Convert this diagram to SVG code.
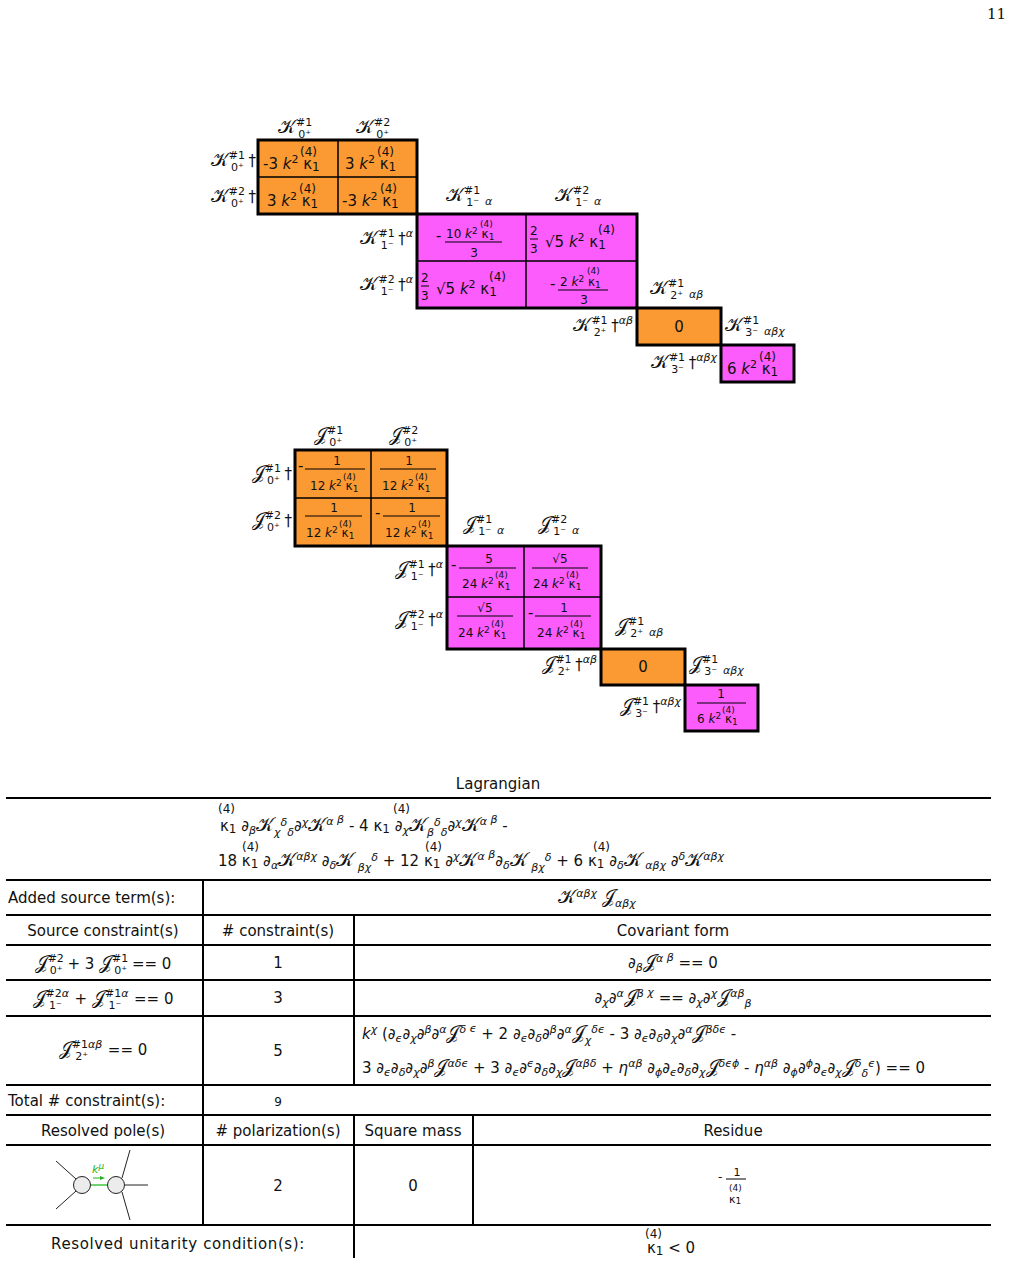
<svg xmlns="http://www.w3.org/2000/svg" width="1012" height="1263" viewBox="0 0 1012 1263">
<style>
text{font-family:"DejaVu Sans","Noto Sans",sans-serif;fill:#111}
.t{font-size:15px}
.s{font-size:11px}
.xs{font-size:9px}
.m{font-size:12px}
.K{font-size:19px}
.c{text-anchor:middle}
.e{text-anchor:end}
.or{fill:#fb9a33;stroke:none}
.mg{fill:#fb5cfb;stroke:none}
.g{stroke:#000;stroke-width:1.5;fill:none}
.b{stroke:#000;stroke-width:3;fill:none}
.tl{stroke:#000;stroke-width:2;fill:none}
.i{font-style:italic}
</style>
<text x="1006" y="19" class="e" style="font-family:'DejaVu Serif',serif;font-size:15px">11</text>

<g id="matrixK">
<rect class="or" x="258" y="140" width="159" height="74"/>
<rect class="mg" x="417" y="214" width="220" height="94"/>
<rect class="or" x="637" y="308" width="84" height="37"/>
<rect class="mg" x="721" y="345" width="73" height="37"/>
<path class="g" d="M338 140V214M258 177H417M526 214V308M417 261H637"/>
<rect class="b" x="258" y="140" width="159" height="74"/>
<rect class="b" x="417" y="214" width="220" height="94"/>
<rect class="b" x="637" y="308" width="84" height="37"/>
<rect class="b" x="721" y="345" width="73" height="37"/>
<text class="t" x="278" y="133"><tspan class="K">𝒦</tspan><tspan class="s" dy="-7">#1</tspan><tspan class="s" dx="-14" dy="12">0⁺</tspan></text>
<text class="t" x="356" y="133"><tspan class="K">𝒦</tspan><tspan class="s" dy="-7">#2</tspan><tspan class="s" dx="-14" dy="12">0⁺</tspan></text>
<text class="t e" x="256" y="166"><tspan class="K">𝒦</tspan><tspan class="s" dy="-7">#1</tspan><tspan class="s" dx="-14" dy="12">0⁺</tspan><tspan dy="-5"> †</tspan></text>
<text class="t e" x="256" y="202"><tspan class="K">𝒦</tspan><tspan class="s" dy="-7">#2</tspan><tspan class="s" dx="-14" dy="12">0⁺</tspan><tspan dy="-5"> †</tspan></text>
<text class="t" x="446" y="201"><tspan class="K">𝒦</tspan><tspan class="s" dy="-7">#1</tspan><tspan class="s" dx="-14" dy="12">1⁻</tspan><tspan class="s i" dx="6" dy="-1">α</tspan></text>
<text class="t" x="555" y="201"><tspan class="K">𝒦</tspan><tspan class="s" dy="-7">#2</tspan><tspan class="s" dx="-14" dy="12">1⁻</tspan><tspan class="s i" dx="6" dy="-1">α</tspan></text>
<text class="t e" x="413" y="244"><tspan class="K">𝒦</tspan><tspan class="s" dy="-7">#1</tspan><tspan class="s" dx="-14" dy="12">1⁻</tspan><tspan dy="-5"> †</tspan><tspan class="s i" dy="-7">α</tspan></text>
<text class="t e" x="413" y="290"><tspan class="K">𝒦</tspan><tspan class="s" dy="-7">#2</tspan><tspan class="s" dx="-14" dy="12">1⁻</tspan><tspan dy="-5"> †</tspan><tspan class="s i" dy="-7">α</tspan></text>
<text class="t" x="650" y="294"><tspan class="K">𝒦</tspan><tspan class="s" dy="-7">#1</tspan><tspan class="s" dx="-14" dy="12">2⁺</tspan><tspan class="s i" dx="6" dy="-1">αβ</tspan></text>
<text class="t e" x="633" y="331"><tspan class="K">𝒦</tspan><tspan class="s" dy="-7">#1</tspan><tspan class="s" dx="-14" dy="12">2⁺</tspan><tspan dy="-5"> †</tspan><tspan class="s i" dy="-7">αβ</tspan></text>
<text class="t" x="725" y="331"><tspan class="K">𝒦</tspan><tspan class="s" dy="-7">#1</tspan><tspan class="s" dx="-14" dy="12">3⁻</tspan><tspan class="s i" dx="6" dy="-1">αβχ</tspan></text>
<text class="t e" x="717" y="368"><tspan class="K">𝒦</tspan><tspan class="s" dy="-7">#1</tspan><tspan class="s" dx="-14" dy="12">3⁻</tspan><tspan dy="-5"> †</tspan><tspan class="s i" dy="-7">αβχ</tspan></text>

<text class="t" x="263" y="169">-3 <tspan class="i">k</tspan><tspan class="s" dy="-6">2</tspan><tspan dy="6"> κ</tspan><tspan class="m" dy="2">1</tspan></text>
<text class="m" x="300" y="156">(4)</text>
<text class="t" x="345" y="169">3 <tspan class="i">k</tspan><tspan class="s" dy="-6">2</tspan><tspan dy="6"> κ</tspan><tspan class="m" dy="2">1</tspan></text>
<text class="m" x="377" y="156">(4)</text>
<text class="t" x="267" y="206">3 <tspan class="i">k</tspan><tspan class="s" dy="-6">2</tspan><tspan dy="6"> κ</tspan><tspan class="m" dy="2">1</tspan></text>
<text class="m" x="299" y="193">(4)</text>
<text class="t" x="342" y="206">-3 <tspan class="i">k</tspan><tspan class="s" dy="-6">2</tspan><tspan dy="6"> κ</tspan><tspan class="m" dy="2">1</tspan></text>
<text class="m" x="380" y="193">(4)</text>

<text class="t" x="436" y="241">-</text>
<line x1="445" y1="242" x2="502" y2="242" stroke="#000" stroke-width="1"/>
<text class="m" x="446" y="238">10 <tspan class="i">k</tspan><tspan class="xs" dy="-4">2</tspan><tspan dy="4"> κ</tspan><tspan class="xs" dy="2">1</tspan></text>
<text class="xs" x="480" y="227">(4)</text>
<text class="m c" x="474" y="257">3</text>
<text class="m" x="530" y="235">2</text><line x1="530" y1="239" x2="538" y2="239" stroke="#000"/><text class="m" x="530" y="253">3</text>
<text class="t" x="545" y="247">√5 <tspan class="i">k</tspan><tspan class="s" dy="-6">2</tspan><tspan dy="6"> κ</tspan><tspan class="m" dy="2">1</tspan></text>
<text class="m" x="598" y="234">(4)</text>
<text class="m" x="421" y="282">2</text><line x1="421" y1="286" x2="429" y2="286" stroke="#000"/><text class="m" x="421" y="300">3</text>
<text class="t" x="436" y="294">√5 <tspan class="i">k</tspan><tspan class="s" dy="-6">2</tspan><tspan dy="6"> κ</tspan><tspan class="m" dy="2">1</tspan></text>
<text class="m" x="489" y="281">(4)</text>
<text class="t" x="550" y="289">-</text>
<line x1="558" y1="290" x2="608" y2="290" stroke="#000" stroke-width="1"/>
<text class="m" x="560" y="286">2 <tspan class="i">k</tspan><tspan class="xs" dy="-4">2</tspan><tspan dy="4"> κ</tspan><tspan class="xs" dy="2">1</tspan></text>
<text class="xs" x="587" y="274">(4)</text>
<text class="m c" x="584" y="304">3</text>
<text class="t c" x="679" y="332">0</text>
<text class="t" x="727" y="374">6 <tspan class="i">k</tspan><tspan class="s" dy="-6">2</tspan><tspan dy="6"> κ</tspan><tspan class="m" dy="2">1</tspan></text>
<text class="m" x="759" y="361">(4)</text>
</g>

<g id="matrixJ">
<rect class="or" x="295" y="450" width="152" height="96"/>
<rect class="mg" x="447" y="546" width="154" height="103"/>
<rect class="or" x="601" y="649" width="84" height="36"/>
<rect class="mg" x="685" y="685" width="73" height="46"/>
<path class="g" d="M371 450V546M295 498H447M524 546V649M447 597H601"/>
<rect class="b" x="295" y="450" width="152" height="96"/>
<rect class="b" x="447" y="546" width="154" height="103"/>
<rect class="b" x="601" y="649" width="84" height="36"/>
<rect class="b" x="685" y="685" width="73" height="46"/>
<text class="t" x="314" y="441"><tspan class="K">𝒥</tspan><tspan class="s" dy="-7">#1</tspan><tspan class="s" dx="-14" dy="12">0⁺</tspan></text>
<text class="t" x="389" y="441"><tspan class="K">𝒥</tspan><tspan class="s" dy="-7">#2</tspan><tspan class="s" dx="-14" dy="12">0⁺</tspan></text>
<text class="t e" x="292" y="479"><tspan class="K">𝒥</tspan><tspan class="s" dy="-7">#1</tspan><tspan class="s" dx="-14" dy="12">0⁺</tspan><tspan dy="-5"> †</tspan></text>
<text class="t e" x="292" y="526"><tspan class="K">𝒥</tspan><tspan class="s" dy="-7">#2</tspan><tspan class="s" dx="-14" dy="12">0⁺</tspan><tspan dy="-5"> †</tspan></text>
<text class="t" x="463" y="530"><tspan class="K">𝒥</tspan><tspan class="s" dy="-7">#1</tspan><tspan class="s" dx="-14" dy="12">1⁻</tspan><tspan class="s i" dx="6" dy="-1">α</tspan></text>
<text class="t" x="538" y="530"><tspan class="K">𝒥</tspan><tspan class="s" dy="-7">#2</tspan><tspan class="s" dx="-14" dy="12">1⁻</tspan><tspan class="s i" dx="6" dy="-1">α</tspan></text>
<text class="t e" x="443" y="575"><tspan class="K">𝒥</tspan><tspan class="s" dy="-7">#1</tspan><tspan class="s" dx="-14" dy="12">1⁻</tspan><tspan dy="-5"> †</tspan><tspan class="s i" dy="-7">α</tspan></text>
<text class="t e" x="443" y="625"><tspan class="K">𝒥</tspan><tspan class="s" dy="-7">#2</tspan><tspan class="s" dx="-14" dy="12">1⁻</tspan><tspan dy="-5"> †</tspan><tspan class="s i" dy="-7">α</tspan></text>
<text class="t" x="615" y="632"><tspan class="K">𝒥</tspan><tspan class="s" dy="-7">#1</tspan><tspan class="s" dx="-14" dy="12">2⁺</tspan><tspan class="s i" dx="6" dy="-1">αβ</tspan></text>
<text class="t e" x="597" y="670"><tspan class="K">𝒥</tspan><tspan class="s" dy="-7">#1</tspan><tspan class="s" dx="-14" dy="12">2⁺</tspan><tspan dy="-5"> †</tspan><tspan class="s i" dy="-7">αβ</tspan></text>
<text class="t" x="689" y="670"><tspan class="K">𝒥</tspan><tspan class="s" dy="-7">#1</tspan><tspan class="s" dx="-14" dy="12">3⁻</tspan><tspan class="s i" dx="6" dy="-1">αβχ</tspan></text>
<text class="t e" x="681" y="712"><tspan class="K">𝒥</tspan><tspan class="s" dy="-7">#1</tspan><tspan class="s" dx="-14" dy="12">3⁻</tspan><tspan dy="-5"> †</tspan><tspan class="s i" dy="-7">αβχ</tspan></text>

<g id="fracs">
<text class="t" x="298" y="471">-</text><line x1="305" y1="469" x2="365" y2="469" stroke="#000"/><text class="m c" x="337" y="465">1</text>
<text class="m" x="310" y="490">12 <tspan class="i">k</tspan><tspan class="xs" dy="-4">2</tspan><tspan dy="4"> κ</tspan><tspan class="xs" dy="2">1</tspan></text><text class="xs" x="343" y="480">(4)</text>
<line x1="380" y1="469" x2="436" y2="469" stroke="#000"/><text class="m c" x="409" y="465">1</text>
<text class="m" x="382" y="490">12 <tspan class="i">k</tspan><tspan class="xs" dy="-4">2</tspan><tspan dy="4"> κ</tspan><tspan class="xs" dy="2">1</tspan></text><text class="xs" x="415" y="480">(4)</text>
<line x1="305" y1="516" x2="362" y2="516" stroke="#000"/><text class="m c" x="334" y="512">1</text>
<text class="m" x="306" y="537">12 <tspan class="i">k</tspan><tspan class="xs" dy="-4">2</tspan><tspan dy="4"> κ</tspan><tspan class="xs" dy="2">1</tspan></text><text class="xs" x="339" y="527">(4)</text>
<text class="t" x="375" y="518">-</text><line x1="383" y1="516" x2="440" y2="516" stroke="#000"/><text class="m c" x="412" y="512">1</text>
<text class="m" x="385" y="537">12 <tspan class="i">k</tspan><tspan class="xs" dy="-4">2</tspan><tspan dy="4"> κ</tspan><tspan class="xs" dy="2">1</tspan></text><text class="xs" x="418" y="527">(4)</text>

<text class="t" x="451" y="570">-</text><line x1="459" y1="568" x2="516" y2="568" stroke="#000"/><text class="m c" x="489" y="563">5</text>
<text class="m" x="462" y="588">24 <tspan class="i">k</tspan><tspan class="xs" dy="-4">2</tspan><tspan dy="4"> κ</tspan><tspan class="xs" dy="2">1</tspan></text><text class="xs" x="495" y="578">(4)</text>
<line x1="532" y1="568" x2="588" y2="568" stroke="#000"/><text class="m c" x="560" y="563">√5</text>
<text class="m" x="533" y="588">24 <tspan class="i">k</tspan><tspan class="xs" dy="-4">2</tspan><tspan dy="4"> κ</tspan><tspan class="xs" dy="2">1</tspan></text><text class="xs" x="566" y="578">(4)</text>
<line x1="457" y1="616" x2="513" y2="616" stroke="#000"/><text class="m c" x="485" y="612">√5</text>
<text class="m" x="458" y="637">24 <tspan class="i">k</tspan><tspan class="xs" dy="-4">2</tspan><tspan dy="4"> κ</tspan><tspan class="xs" dy="2">1</tspan></text><text class="xs" x="491" y="627">(4)</text>
<text class="t" x="528" y="618">-</text><line x1="535" y1="616" x2="591" y2="616" stroke="#000"/><text class="m c" x="564" y="612">1</text>
<text class="m" x="537" y="637">24 <tspan class="i">k</tspan><tspan class="xs" dy="-4">2</tspan><tspan dy="4"> κ</tspan><tspan class="xs" dy="2">1</tspan></text><text class="xs" x="570" y="627">(4)</text>
<line x1="697" y1="703" x2="746" y2="703" stroke="#000"/><text class="m c" x="721" y="698">1</text>
<text class="m" x="697" y="723">6 <tspan class="i">k</tspan><tspan class="xs" dy="-4">2</tspan><tspan dy="4"> κ</tspan><tspan class="xs" dy="2">1</tspan></text><text class="xs" x="722" y="713">(4)</text>
</g>
<text class="t c" x="643" y="672">0</text>
</g>

<g id="table">
<text class="t c" x="498" y="789">Lagrangian</text>
<path class="tl" d="M6 798H991M6 880H991M6 915H991M6 945H991M6 980H991M6 1016H991M6 1085H991M6 1115H991M6 1145H991M6 1225H991"/>
<path class="tl" d="M203 880V1225M354 915V1085M354 1115V1258M473 1115V1225"/>
<text class="m" x="218" y="813">(4)</text>
<text class="t" x="220" y="831">κ<tspan class="m" dy="2">1</tspan><tspan dy="-2" class="i"> ∂</tspan><tspan class="s i" dy="3">β</tspan><tspan dy="-3" class="K">𝒦</tspan><tspan class="s i" dy="5">χ</tspan><tspan class="s i" dy="-10">δ</tspan><tspan class="s i" dy="10">δ</tspan><tspan dy="-5" class="i">∂</tspan><tspan class="s i" dy="-5">χ</tspan><tspan dy="5" class="K">𝒦</tspan><tspan class="s i" dy="-6">α</tspan><tspan class="s i" dy="-2"> β</tspan><tspan dy="8"> - 4 </tspan><tspan>κ</tspan><tspan class="m" dy="2">1</tspan><tspan dy="-2" class="i"> ∂</tspan><tspan class="s i" dy="3">χ</tspan><tspan dy="-3" class="K">𝒦</tspan><tspan class="s i" dy="5">β</tspan><tspan class="s i" dy="-10">δ</tspan><tspan class="s i" dy="10">δ</tspan><tspan dy="-5" class="i">∂</tspan><tspan class="s i" dy="-5">χ</tspan><tspan dy="5" class="K">𝒦</tspan><tspan class="s i" dy="-6">α</tspan><tspan class="s i" dy="-2"> β</tspan><tspan dy="8"> -</tspan></text>
<text class="m" x="393" y="813">(4)</text>
<text class="m" x="242" y="851">(4)</text><text class="m" x="425" y="851">(4)</text><text class="m" x="593" y="851">(4)</text>
<text class="t" x="218" y="866">18 κ<tspan class="m" dy="2">1</tspan><tspan dy="-2" class="i"> ∂</tspan><tspan class="s i" dy="3">α</tspan><tspan dy="-3" class="K">𝒦</tspan><tspan class="s i" dy="-6">αβχ</tspan><tspan dy="6" class="i"> ∂</tspan><tspan class="s i" dy="3">δ</tspan><tspan dy="-3" class="K">𝒦</tspan><tspan class="s i" dy="5"> βχ</tspan><tspan class="s i" dy="-10">δ</tspan><tspan dy="5"> + 12 κ</tspan><tspan class="m" dy="2">1</tspan><tspan dy="-2" class="i"> ∂</tspan><tspan class="s i" dy="-6">χ</tspan><tspan dy="6" class="K">𝒦</tspan><tspan class="s i" dy="-6">α</tspan><tspan class="s i" dy="-2"> β</tspan><tspan dy="8" class="i">∂</tspan><tspan class="s i" dy="3">δ</tspan><tspan dy="-3" class="K">𝒦</tspan><tspan class="s i" dy="5"> βχ</tspan><tspan class="s i" dy="-10">δ</tspan><tspan dy="5"> + 6 κ</tspan><tspan class="m" dy="2">1</tspan><tspan dy="-2" class="i"> ∂</tspan><tspan class="s i" dy="3">δ</tspan><tspan dy="-3" class="K">𝒦</tspan><tspan class="s i" dy="3"> αβχ</tspan><tspan dy="-3" class="i"> ∂</tspan><tspan class="s i" dy="-6">δ</tspan><tspan dy="6" class="K">𝒦</tspan><tspan class="s i" dy="-6">αβχ</tspan></text>

<text class="t" x="8" y="903">Added source term(s):</text>
<text class="t c" x="597" y="903"><tspan class="K">𝒦</tspan><tspan class="s i" dy="-6">αβχ</tspan><tspan dy="6">  </tspan><tspan class="K">𝒥</tspan><tspan class="s i" dy="4">αβχ</tspan></text>
<text class="t c" x="103" y="936">Source constraint(s)</text>
<text class="t c" x="278" y="936">#  constraint(s)</text>
<text class="t c" x="673" y="936">Covariant form</text>

<text class="t c" x="103" y="969"><tspan class="K">𝒥</tspan><tspan class="s" dy="-7">#2</tspan><tspan class="s" dx="-14" dy="12">0⁺</tspan><tspan dy="-5"> + 3 </tspan><tspan class="K">𝒥</tspan><tspan class="s" dy="-7">#1</tspan><tspan class="s" dx="-14" dy="12">0⁺</tspan><tspan dy="-5"> == 0</tspan></text>
<text class="t c" x="278" y="968">1</text>
<text class="t c" x="673" y="968"><tspan class="i">∂</tspan><tspan class="s i" dy="3">β</tspan><tspan dy="-3" class="K">𝒥</tspan><tspan class="s i" dy="-6">α</tspan><tspan class="s i" dy="-1"> β</tspan><tspan dy="7"> == 0</tspan></text>

<text class="t c" x="103" y="1004"><tspan class="K">𝒥</tspan><tspan class="s" dy="-7">#2</tspan><tspan class="s i">α</tspan><tspan class="s" dx="-20" dy="12">1⁻</tspan><tspan dx="8" dy="-5"> + </tspan><tspan class="K">𝒥</tspan><tspan class="s" dy="-7">#1</tspan><tspan class="s i">α</tspan><tspan class="s" dx="-20" dy="12">1⁻</tspan><tspan dx="8" dy="-5"> == 0</tspan></text>
<text class="t c" x="278" y="1003">3</text>
<text class="t c" x="673" y="1003"><tspan class="i">∂</tspan><tspan class="s i" dy="3">χ</tspan><tspan dy="-3" class="i">∂</tspan><tspan class="s i" dy="-6">α</tspan><tspan dy="6" class="K">𝒥</tspan><tspan class="s i" dy="-6">β</tspan><tspan class="s i" dy="-1"> χ</tspan><tspan dy="7"> == </tspan><tspan class="i">∂</tspan><tspan class="s i" dy="3">χ</tspan><tspan dy="-3" class="i">∂</tspan><tspan class="s i" dy="-6">χ</tspan><tspan dy="6" class="K">𝒥</tspan><tspan class="s i" dy="-6">αβ</tspan><tspan class="s i" dy="10">β</tspan></text>

<text class="t c" x="103" y="1055"><tspan class="K">𝒥</tspan><tspan class="s" dy="-7">#1</tspan><tspan class="s i">αβ</tspan><tspan class="s" dx="-27" dy="12">2⁺</tspan><tspan dx="15" dy="-5"> == 0</tspan></text>
<text class="t c" x="278" y="1056">5</text>
<text class="t" x="362" y="1039"><tspan class="i">k</tspan><tspan class="s i" dy="-6">χ</tspan><tspan dy="6"> (</tspan><tspan class="i">∂</tspan><tspan class="s i" dy="3">ϵ</tspan><tspan dy="-3" class="i">∂</tspan><tspan class="s i" dy="3">χ</tspan><tspan dy="-3" class="i">∂</tspan><tspan class="s i" dy="-6">β</tspan><tspan dy="6" class="i">∂</tspan><tspan class="s i" dy="-6">α</tspan><tspan dy="6" class="K">𝒥</tspan><tspan class="s i" dy="-6">δ</tspan><tspan class="s i" dy="-1"> ϵ</tspan><tspan dy="7"> + 2 </tspan><tspan class="i">∂</tspan><tspan class="s i" dy="3">ϵ</tspan><tspan dy="-3" class="i">∂</tspan><tspan class="s i" dy="3">δ</tspan><tspan dy="-3" class="i">∂</tspan><tspan class="s i" dy="-6">β</tspan><tspan dy="6" class="i">∂</tspan><tspan class="s i" dy="-6">α</tspan><tspan dy="6" class="K">𝒥</tspan><tspan class="s i" dy="5">χ</tspan><tspan class="s i" dy="-11">δϵ</tspan><tspan dy="6"> - 3 </tspan><tspan class="i">∂</tspan><tspan class="s i" dy="3">ϵ</tspan><tspan dy="-3" class="i">∂</tspan><tspan class="s i" dy="3">δ</tspan><tspan dy="-3" class="i">∂</tspan><tspan class="s i" dy="3">χ</tspan><tspan dy="-3" class="i">∂</tspan><tspan class="s i" dy="-6">α</tspan><tspan dy="6" class="K">𝒥</tspan><tspan class="s i" dy="-6">βδϵ</tspan><tspan dy="6"> -</tspan></text>
<text class="t" x="362" y="1073">3 <tspan class="i">∂</tspan><tspan class="s i" dy="3">ϵ</tspan><tspan dy="-3" class="i">∂</tspan><tspan class="s i" dy="3">δ</tspan><tspan dy="-3" class="i">∂</tspan><tspan class="s i" dy="3">χ</tspan><tspan dy="-3" class="i">∂</tspan><tspan class="s i" dy="-6">β</tspan><tspan dy="6" class="K">𝒥</tspan><tspan class="s i" dy="-6">αδϵ</tspan><tspan dy="6"> + 3 </tspan><tspan class="i">∂</tspan><tspan class="s i" dy="3">ϵ</tspan><tspan dy="-3" class="i">∂</tspan><tspan class="s i" dy="-6">ϵ</tspan><tspan dy="6" class="i">∂</tspan><tspan class="s i" dy="3">δ</tspan><tspan dy="-3" class="i">∂</tspan><tspan class="s i" dy="3">χ</tspan><tspan dy="-3" class="K">𝒥</tspan><tspan class="s i" dy="-6">αβδ</tspan><tspan dy="6"> + </tspan><tspan class="i">η</tspan><tspan class="s i" dy="-6">αβ</tspan><tspan dy="6"> </tspan><tspan class="i">∂</tspan><tspan class="s i" dy="3">ϕ</tspan><tspan dy="-3" class="i">∂</tspan><tspan class="s i" dy="3">ϵ</tspan><tspan dy="-3" class="i">∂</tspan><tspan class="s i" dy="3">δ</tspan><tspan dy="-3" class="i">∂</tspan><tspan class="s i" dy="3">χ</tspan><tspan dy="-3" class="K">𝒥</tspan><tspan class="s i" dy="-6">δϵϕ</tspan><tspan dy="6"> - </tspan><tspan class="i">η</tspan><tspan class="s i" dy="-6">αβ</tspan><tspan dy="6"> </tspan><tspan class="i">∂</tspan><tspan class="s i" dy="3">ϕ</tspan><tspan dy="-3" class="i">∂</tspan><tspan class="s i" dy="-6">ϕ</tspan><tspan dy="6" class="i">∂</tspan><tspan class="s i" dy="3">ϵ</tspan><tspan dy="-3" class="i">∂</tspan><tspan class="s i" dy="3">χ</tspan><tspan dy="-3" class="K">𝒥</tspan><tspan class="s i" dy="-6">δ</tspan><tspan class="s i" dy="10">δ</tspan><tspan class="s i" dy="-10">ϵ</tspan><tspan dy="6">) == 0</tspan></text>

<text class="t" x="8" y="1106">Total # constraint(s):</text>
<text class="m c" x="278" y="1106">9</text>
<text class="t c" x="103" y="1136">Resolved pole(s)</text>
<text class="t c" x="278" y="1136"># polarization(s)</text>
<text class="t c" x="413" y="1136">Square mass</text>
<text class="t c" x="733" y="1136">Residue</text>
<text class="t c" x="278" y="1191">2</text>
<text class="t c" x="413" y="1191">0</text>
<text class="m" x="718" y="1181">-</text>
<line x1="726" y1="1179" x2="746" y2="1179" stroke="#000"/>
<text class="s c" x="737" y="1176">1</text>
<text class="xs" x="729" y="1191">(4)</text>
<text class="s" x="729" y="1203">κ<tspan class="xs" dy="1">1</tspan></text>
<text class="t c" x="178" y="1249" style="letter-spacing:0.6px">Resolved unitarity condition(s):</text>
<text class="m" x="645" y="1238">(4)</text>
<text class="t" x="647" y="1253">κ<tspan class="m" dy="2">1</tspan><tspan dy="-2"> &lt; 0</tspan></text>
</g>

<g id="pole">
<path d="M56 1161L76 1179M56 1209L76 1191M122 1178L130 1150M122 1192L130 1220M125 1185H148" stroke="#222" stroke-width="1"/>
<line x1="91" y1="1185" x2="107" y2="1185" stroke="#6fd36f" stroke-width="2"/>
<line x1="93" y1="1178" x2="101" y2="1178" stroke="#22b422" stroke-width="1"/>
<path d="M100 1176L105 1178L100 1180Z" fill="#22b422"/>
<text class="s i" x="92" y="1173" style="fill:#22b422">k<tspan class="xs" dy="-4">μ</tspan></text>
<circle cx="82" cy="1185" r="8.5" fill="#ececec" stroke="#222"/>
<circle cx="116" cy="1185" r="8.5" fill="#ececec" stroke="#222"/>
</g>
</svg>
